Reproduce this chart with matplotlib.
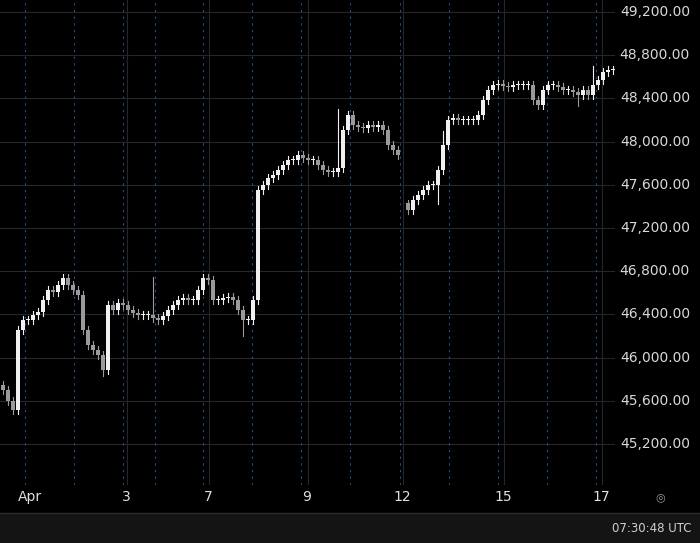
import matplotlib
matplotlib.use("Agg")
import matplotlib.pyplot as plt
from matplotlib.patches import Rectangle

closes = [45700,45600,45515,46255,46348,46348,46394,46422,46533,46626,46607,46672,46737,46672,46626,46579,
          46255,46116,46070,46024,45885,46487,46441,46505,46487,46441,46413,46394,46394,46394,46366,46348,
          46385,46441,46487,46533,46552,46533,46533,46626,46737,46718,46533,46533,46552,46560,46533,46441,
          46348,46348,46533,47552,47598,47663,47691,47737,47783,47830,47830,47876,47848,47830,47830,47783,
          47737,47719,47719,47755,48107,48246,48154,48135,48126,48154,48135,48154,48107,47968,47922,47876,
          None,47367,47459,47505,47552,47598,47598,47737,47968,48200,48218,48200,48200,48200,48200,48246,
          48385,48478,48524,48533,48515,48505,48524,48524,48524,48524,48385,48339,48478,48524,48524,48505,
          48478,48478,48459,48431,48478,48431,48524,48570,48644,48663,48663]
spikes_high = {30: 46750, 67: 48300, 88: 48100, 118: 48700}
spikes_low = {20: 45830, 48: 46200, 87: 47420, 115: 48330}
wick = 35
step = 5

price_ticks = [45200,45600,46000,46400,46800,47200,47600,48000,48400,48800,49200]
day_labels = ["Apr","3","7","9","12","15","17"]
day_pos = [30,126,208,307,402,503,601]
dashed_pos = [25,74,123,155,203,252,301,350,400,449,498,547,596]

W, H = 700, 543
fig = plt.figure(figsize=(W/100, H/100), dpi=100, facecolor="black")
ax = fig.add_axes([0, (543-485)/543, 615/700, 485/543], facecolor="black")
ax.set_xlim(0, 615)
ax.set_ylim(44820, 49311)

for p in price_ticks:
    ax.axhline(p, color="#262626", lw=0.8, zorder=0)
for x in day_pos[1:]:
    ax.axvline(x + 0.5, color="#262626", lw=0.8, zorder=0)
for x in dashed_pos:
    ax.axvline(x, color="#24508f", lw=0.8, ls=(0, (2, 4)), zorder=1)

prev = closes[0] + 50
for i, c in enumerate(closes):
    if c is None:
        prev = None
        continue
    o = prev if prev is not None else c + 60
    x = i * step + 3
    hi = spikes_high.get(i, max(o, c) + wick)
    lo = spikes_low.get(i, min(o, c) - wick)
    col = "#f0f0f0" if c >= o else "#9a9a9a"
    ax.plot([x, x], [lo, hi], color=col, lw=0.8, zorder=2)
    ax.add_patch(Rectangle((x - 1.6, min(o, c)), 3.2, max(abs(c - o), 8), color=col, zorder=3, lw=0))
    prev = c

ax.set_xticks([]); ax.set_yticks([])
for s in ax.spines.values():
    s.set_visible(False)

for p in price_ticks:
    fy = ((p - 44820) / (49311 - 44820)) * 485 + 58
    fig.text(690/W, fy/H, f"{p:,.2f}", color="#d8d8d8", fontsize=10, ha="right", va="center")
for lab, x in zip(day_labels, day_pos):
    fig.text(x/W, 1 - 497/H, lab, color="#e0e0e0", fontsize=10, ha="center", va="center")
fig.text(660/W, 1 - 497/H, "◎", color="#9a9a9a", fontsize=8, ha="center", va="center")

fig.patches.append(Rectangle((0, 0), 1, 30/H, transform=fig.transFigure, color="#141414", zorder=0))
fig.lines.append(matplotlib.lines.Line2D([0, 1], [30/H, 30/H], transform=fig.transFigure, color="#2a2a2a", lw=1))
fig.text(692/W, 15/H, "07:30:48 UTC", color="#d0d0d0", fontsize=8.5, ha="right", va="center")

fig.savefig("out.png", dpi=100, facecolor="black")
